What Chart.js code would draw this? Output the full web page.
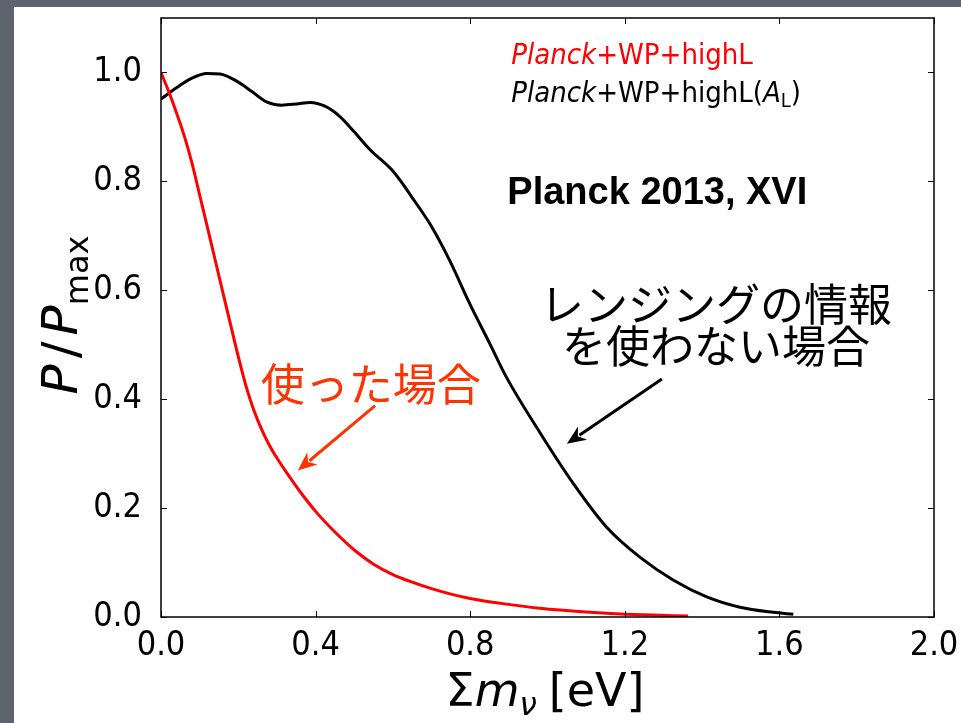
<!DOCTYPE html>
<html>
<head>
<meta charset="utf-8">
<script src="https://cdn.jsdelivr.net/npm/chart.js@4.4.1/dist/chart.umd.min.js"></script>
<style>
  html, body { margin: 0; padding: 0; background: #5e636f; overflow: hidden; }
  #panel { position: absolute; left: 14px; top: 7px; right: 0; bottom: 0; background: #fff; }
  #myChart { position: absolute; left: 0; top: 0; }
</style>
</head>
<body>
<div id="panel"></div>
<canvas id="myChart" width="961" height="723"></canvas>
<script>
// Planck+WP+highL (red)
const redX = [0, 0.02, 0.04, 0.06, 0.08, 0.10, 0.12, 0.14, 0.16, 0.18, 0.20, 0.22, 0.24, 0.26, 0.28, 0.30, 0.33, 0.36, 0.40, 0.45, 0.50, 0.55, 0.60, 0.65, 0.70, 0.75, 0.80, 0.88, 0.98, 1.10, 1.20, 1.364];
const redY = [1.0, 0.965, 0.926, 0.884, 0.834, 0.775, 0.716, 0.656, 0.596, 0.537, 0.478, 0.424, 0.380, 0.345, 0.316, 0.292, 0.260, 0.230, 0.194, 0.156, 0.123, 0.097, 0.078, 0.064, 0.052, 0.042, 0.034, 0.025, 0.016, 0.009, 0.005, 0.002];
// Planck+WP+highL(A_L) (black)
const blackX = [0, 0.040, 0.079, 0.118, 0.153, 0.196, 0.235, 0.273, 0.312, 0.350, 0.386, 0.424, 0.463, 0.501, 0.541, 0.601, 0.657, 0.700, 0.748, 0.799, 0.850, 0.894, 0.981, 1.067, 1.153, 1.239, 1.325, 1.412, 1.498, 1.584, 1.636];
const blackY = [0.951, 0.972, 0.989, 0.998, 0.997, 0.984, 0.965, 0.946, 0.940, 0.942, 0.945, 0.938, 0.919, 0.890, 0.858, 0.818, 0.763, 0.717, 0.653, 0.575, 0.503, 0.440, 0.338, 0.245, 0.165, 0.110, 0.068, 0.037, 0.018, 0.0086, 0.005];
const xTicks = [0, 0.4, 0.8, 1.2, 1.6, 2.0];
const yTicks = [0, 0.2, 0.4, 0.6, 0.8, 1.0];

const numFont = "'DejaVu Sans Condensed', 'DejaVu Sans', sans-serif";
const redText = '#ff3300';

function drawRuns(ctx, runs, x, y, align) {
    let total = 0;
    runs.forEach(r => { ctx.font = r.font; r.w = ctx.measureText(r.t).width; total += r.w + (r.gap || 0); });
    let cx = align == 'center' ? x - total / 2 : x;
    ctx.textAlign = 'left';
    ctx.textBaseline = 'alphabetic';
    runs.forEach(r => {
        ctx.font = r.font;
        ctx.fillStyle = r.color || ctx.fillStyle;
        ctx.fillText(r.t, cx, y + (r.dy || 0));
        cx += r.w + (r.gap || 0);
    });
}

function arrow(ctx, x1, y1, x2, y2, color) {
    const ang = Math.atan2(y2 - y1, x2 - x1);
    const len = 19, half = 8;
    ctx.save();
    ctx.strokeStyle = color;
    ctx.fillStyle = color;
    ctx.lineWidth = 3;
    ctx.beginPath();
    ctx.moveTo(x1, y1);
    ctx.lineTo(x2 - Math.cos(ang) * len * 0.8, y2 - Math.sin(ang) * len * 0.8);
    ctx.stroke();
    ctx.beginPath();
    ctx.moveTo(x2, y2);
    ctx.lineTo(x2 - Math.cos(ang) * len + Math.sin(ang) * half, y2 - Math.sin(ang) * len - Math.cos(ang) * half);
    ctx.lineTo(x2 - Math.cos(ang) * len * 0.7, y2 - Math.sin(ang) * len * 0.7);
    ctx.lineTo(x2 - Math.cos(ang) * len - Math.sin(ang) * half, y2 - Math.sin(ang) * len + Math.cos(ang) * half);
    ctx.closePath();
    ctx.fill();
    ctx.restore();
}

const overlay = {
    id: 'overlay',
    afterDraw(chart) {
        const ctx = chart.ctx;
        const a = chart.chartArea;
        const sx = chart.scales.x, sy = chart.scales.y;
        ctx.save();
        // frame and inner ticks
        ctx.strokeStyle = '#000';
        ctx.lineWidth = 1.5;
        ctx.strokeRect(a.left, a.top, a.right - a.left, a.bottom - a.top);
        ctx.lineWidth = 1;
        ctx.beginPath();
        xTicks.forEach(v => {
            const px = Math.round(sx.getPixelForValue(v)) + 0.5;
            ctx.moveTo(px, a.bottom); ctx.lineTo(px, a.bottom - 6);
            ctx.moveTo(px, a.top); ctx.lineTo(px, a.top + 6);
        });
        yTicks.forEach(v => {
            const py = Math.round(sy.getPixelForValue(v)) + 0.5;
            ctx.moveTo(a.left, py); ctx.lineTo(a.left + 6, py);
            ctx.moveTo(a.right, py); ctx.lineTo(a.right - 6, py);
        });
        ctx.stroke();

        // axis titles
        ctx.fillStyle = '#000';
        drawRuns(ctx, [
            {t: 'Σ', font: "46px 'DejaVu Sans'"},
            {t: 'm', font: "italic 46px 'DejaVu Sans'"},
            {t: 'ν', font: "italic 31px 'DejaVu Sans'", dy: 9, gap: 12},
            {t: '[eV]', font: "46px 'DejaVu Sans'"}
        ], 545, 706, 'center');

        ctx.save();
        ctx.translate(77, 315);
        ctx.rotate(-Math.PI / 2);
        drawRuns(ctx, [
            {t: 'P', font: "italic 50px 'DejaVu Sans'", gap: 6},
            {t: '/', font: "50px 'DejaVu Sans'", gap: 6},
            {t: 'P', font: "italic 50px 'DejaVu Sans'"},
            {t: 'max', font: "32px 'DejaVu Sans'", dy: 11}
        ], 0, 0, 'center');
        ctx.restore();

        // legend text
        let lx = sx.getPixelForValue(0.906);
        drawRuns(ctx, [
            {t: 'Planck', font: "italic 29px " + numFont, color: '#ff0000'},
            {t: '+WP+highL', font: "29px " + numFont}
        ], lx, sy.getPixelForValue(1.016), 'left');
        drawRuns(ctx, [
            {t: 'Planck', font: "italic 29px " + numFont, color: '#000'},
            {t: '+WP+highL(', font: "29px " + numFont},
            {t: 'A', font: "italic 29px " + numFont},
            {t: 'L', font: "20px " + numFont, dy: 5},
            {t: ')', font: "29px " + numFont}
        ], lx, sy.getPixelForValue(0.946), 'left');

        ctx.font = "bold 38px 'Liberation Sans', Arial, sans-serif";
        ctx.fillStyle = '#000';
        ctx.textAlign = 'left';
        ctx.textBaseline = 'middle';
        ctx.fillText('Planck 2013, XVI', sx.getPixelForValue(0.896), sy.getPixelForValue(0.778));

        // Japanese annotations
        ctx.font = "44px 'Noto Sans CJK JP', sans-serif";
        ctx.textAlign = 'center';
        ctx.fillText('レンジングの情報', sx.getPixelForValue(1.436), sy.getPixelForValue(0.575));
        ctx.fillText('を使わない場合', sx.getPixelForValue(1.436), sy.getPixelForValue(0.498));
        ctx.fillStyle = redText;
        ctx.fillText('使った場合', sx.getPixelForValue(0.543), sy.getPixelForValue(0.428));

        arrow(ctx, sx.getPixelForValue(0.554), sy.getPixelForValue(0.388), sx.getPixelForValue(0.354), sy.getPixelForValue(0.269), redText);
        arrow(ctx, sx.getPixelForValue(1.296), sy.getPixelForValue(0.437), sx.getPixelForValue(1.050), sy.getPixelForValue(0.318), '#000');
        ctx.restore();
    }
};

function toPoints(xs, ys) {
    return xs.map((x, i) => ({x: x, y: ys[i]}));
}

var ctx = document.getElementById("myChart").getContext('2d');
new Chart(ctx, {
    type: 'scatter',
    data: {
        datasets: [{
            label: 'Planck+WP+highL',
            data: toPoints(redX, redY),
            borderColor: '#ff0000',
            borderWidth: 3,
            showLine: true,
            pointRadius: 0,
            cubicInterpolationMode: 'monotone'
        }, {
            label: 'Planck+WP+highL(AL)',
            data: toPoints(blackX, blackY),
            borderColor: '#000000',
            borderWidth: 3,
            showLine: true,
            pointRadius: 0,
            cubicInterpolationMode: 'monotone'
        }]
    },
    options: {
        responsive: false,
        animation: false,
        layout: { padding: { top: 18, right: 27, left: 0, bottom: 0 } },
        plugins: { legend: { display: false }, tooltip: { enabled: false } },
        scales: {
            x: {
                type: 'linear',
                min: 0,
                max: 2,
                afterBuildTicks: axis => { axis.ticks = xTicks.map(v => ({value: v})); },
                afterFit: s => { s.height = 106; s.paddingLeft = 0; s.paddingRight = 0; },
                grid: { display: false },
                border: { display: false },
                ticks: {
                    color: '#000',
                    padding: 1,
                    maxRotation: 0,
                    font: { family: numFont, size: 34 },
                    callback: v => v.toFixed(1)
                }
            },
            y: {
                min: 0,
                max: 1.1,
                afterBuildTicks: axis => { axis.ticks = yTicks.map(v => ({value: v})); },
                afterFit: s => { s.width = 161; s.paddingTop = 0; s.paddingBottom = 0; },
                grid: { display: false },
                border: { display: false },
                ticks: {
                    color: '#000',
                    padding: 11,
                    font: { family: numFont, size: 34 },
                    callback: v => v.toFixed(1)
                }
            }
        }
    },
    plugins: [overlay]
});
</script>
</body>
</html>
